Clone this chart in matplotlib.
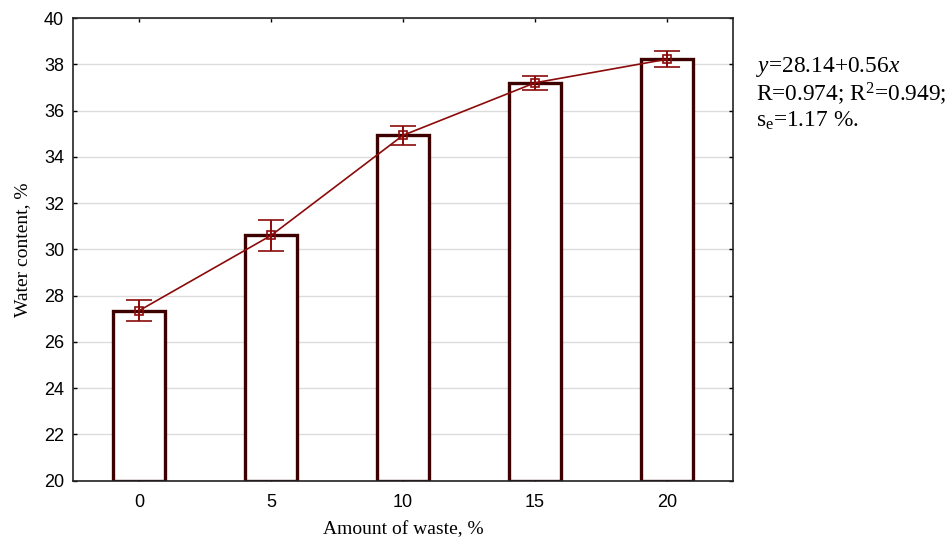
import matplotlib.pyplot as plt
import numpy as np

plt.rcParams['mathtext.fontset'] = 'custom'
plt.rcParams['mathtext.rm'] = 'Liberation Serif'
plt.rcParams['mathtext.it'] = 'Liberation Serif:italic'

waste = ['0', '5', '10', '15', '20']
water = [27.35, 30.6, 34.93, 37.2, 38.22]
err = [0.44, 0.69, 0.40, 0.30, 0.35]
yticks = [20, 22, 24, 26, 28, 30, 32, 34, 36, 38, 40]

bar_edge = '#3d0000'
line_col = '#8b0a0a'

fig = plt.figure(figsize=(9.52, 5.38), dpi=100)
ax = fig.add_axes([0.0767, 0.1065, 0.6933, 0.86])

x = np.arange(len(waste))
ax.bar(x, np.array(water) - 20, bottom=20, width=0.4, facecolor='white',
       edgecolor=bar_edge, linewidth=2.4, zorder=2)
ax.errorbar(x, water, yerr=err, color=line_col, linewidth=1.2, capsize=9.5,
            capthick=1.4, elinewidth=1.4, marker='s', markersize=6,
            markerfacecolor='none', markeredgecolor=line_col,
            markeredgewidth=1.2, zorder=3)

ax.set_xlim(-0.5, 4.5)
ax.set_ylim(20, 40)
ax.set_xticks(x)
ax.set_xticklabels(waste)
ax.set_yticks(yticks)
ax.grid(axis='y', color='#dcdcdc', linewidth=1.0, zorder=0)
ax.set_axisbelow(True)
ax.tick_params(direction='in', length=3, width=1, top=True, right=True,
               labelsize=13)
ax.tick_params(axis='x', pad=9.5)
ax.tick_params(axis='y', pad=6.5)
for lab in ax.get_xticklabels() + ax.get_yticklabels():
    lab.set_fontfamily('Liberation Sans')
for s in ax.spines.values():
    s.set_linewidth(1.2)
    s.set_color('#222222')

ax.set_xlabel('Amount of waste, %', family='Liberation Serif', fontsize=14, labelpad=7)
ax.set_ylabel('Water content, %', family='Liberation Serif', fontsize=14, labelpad=9)

# regression summary next to the plot
eq_lines = ['$\\it{y}$=28.14+0.56$\\it{x}$',
            'R=0.974; R$^{2}$=0.949;',
            's$_{\\rm e}$=1.17 %.']
for i, t in enumerate(eq_lines):
    fig.text(0.794, 1 - (67 + 27 * i) / 538, t, family='Liberation Serif',
             fontsize=16.8, va='center', ha='left')

fig.savefig('out.png', dpi=100)
